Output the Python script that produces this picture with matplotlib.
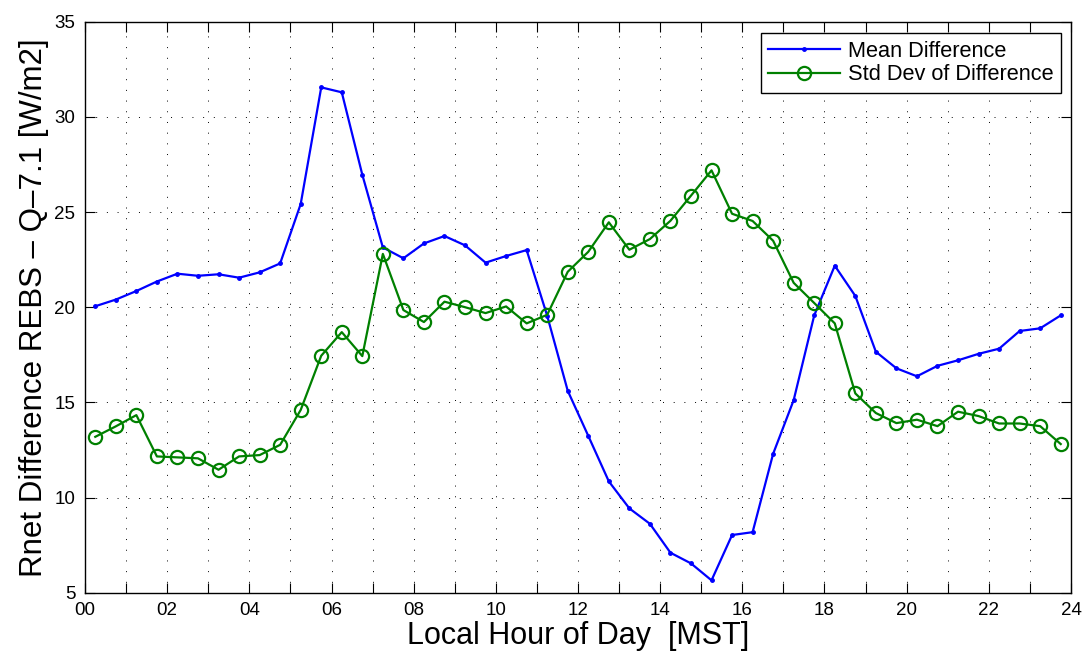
import numpy as np
import matplotlib
matplotlib.use("Agg")
from matplotlib import pyplot as plt

plt.rcParams['font.family'] = ['Liberation Sans', 'DejaVu Sans']

# half-hour bins, centred on :15 and :45
hour = np.arange(0.25, 24.0, 0.5)

mean_diff = [20.05, 20.40, 20.85, 21.35, 21.76, 21.65, 21.73, 21.55,
             21.83, 22.30, 25.42, 31.55, 31.29, 26.96, 23.14, 22.57,
             23.35, 23.74, 23.25, 22.34, 22.69, 23.00, 19.55, 15.61,
             13.24, 10.85, 9.43, 8.62, 7.10, 6.54, 5.65, 8.03,
             8.18, 12.30, 15.12, 19.57, 22.18, 20.59, 17.66, 16.79,
             16.37, 16.92, 17.21, 17.55, 17.82, 18.75, 18.89, 19.57]

std_diff = [13.19, 13.74, 14.33, 12.16, 12.11, 12.06, 11.46, 12.16,
            12.23, 12.77, 14.60, 17.45, 18.69, 17.43, 22.80, 19.85,
            19.22, 20.29, 20.00, 19.69, 20.04, 19.15, 19.60, 21.86,
            22.91, 24.46, 23.02, 23.58, 24.54, 25.86, 27.19, 24.91,
            24.53, 23.49, 21.28, 20.22, 19.15, 15.47, 14.44, 13.91,
            14.09, 13.75, 14.51, 14.28, 13.89, 13.89, 13.75, 12.81]

xticks = np.arange(0, 25, 1)
xlabels = ["%02d" % h if h % 2 == 0 else "" for h in xticks]
yticks = np.arange(5, 36, 5)

fig = plt.figure(figsize=(10.88, 6.58), dpi=100)
ax = fig.add_axes([85/1088, 1-592.7/658, 986/1088, 571/658])

ax.plot(hour, mean_diff, '-', color=(0, 0, 1), lw=1.6, marker='.',
        markersize=5, label="Mean Difference")
ax.plot(hour, std_diff, '-', color=(0, 0.5, 0), lw=1.6, marker='o',
        markersize=9.5, markerfacecolor='none', markeredgewidth=1.6,
        label="Std Dev of Difference")

ax.set_xlim(0, 24)
ax.set_ylim(5, 35)
ax.set_xticks(xticks)
ax.set_xticklabels(xlabels)
ax.set_yticks(yticks)
ax.tick_params(direction='in', length=7, width=0.8, top=True, right=True,
               labelsize=13.5, pad=7)
ax.grid(True, color='k', lw=0.7, linestyle=(0, (1, 10)))
for s in ax.spines.values():
    s.set_linewidth(1.0)

ax.set_xlabel("Local Hour of Day  [MST]", fontsize=22, labelpad=1)
ax.set_ylabel("Rnet Difference REBS – Q–7.1 [W/m2]", fontsize=22.5, labelpad=4)

leg = ax.legend(loc='upper right', bbox_to_anchor=(0.9899, 0.980),
                borderaxespad=0, fontsize=15.7, numpoints=1,
                handlelength=3.3, handletextpad=0.35, borderpad=0.35,
                labelspacing=0.12, fancybox=False, framealpha=1)
leg.get_frame().set_edgecolor('k')
leg.get_frame().set_linewidth(1.0)

fig.savefig("out.png", dpi=100)
